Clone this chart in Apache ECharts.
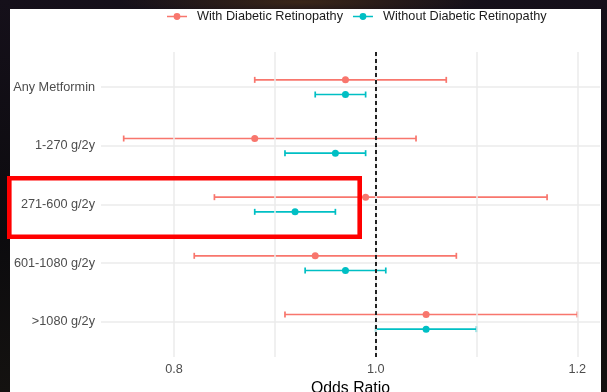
<!DOCTYPE html>
<html><head><meta charset="utf-8">
<script src="https://cdn.jsdelivr.net/npm/echarts@6/dist/echarts.min.js"></script>
<style>
html,body{margin:0;padding:0;width:607px;height:392px;overflow:hidden;background:#0e0c10;}
#bg{position:absolute;left:0;top:0;width:607px;height:392px;
 background:radial-gradient(ellipse 180px 14px at 300px 2px,#3a2618 0%,rgba(20,14,16,0) 100%),linear-gradient(180deg,#15101a 0%,#0c0b0e 60%,#141210 100%);}
#paper{position:absolute;left:10px;top:9px;width:591px;height:383px;background:#ffffff;}
#chart{position:absolute;left:0;top:0;width:607px;height:392px;}
</style></head>
<body><div id="bg"></div><div id="paper"></div><div id="chart"></div>
<script>
// ---- data ----
const categories = ['Any Metformin', '1-270 g/2y', '271-600 g/2y', '601-1080 g/2y', '>1080 g/2y'];
const seriesNames = ['With Diabetic Retinopathy', 'Without Diabetic Retinopathy'];
const withOR   = [0.97, 0.88, 0.99, 0.94, 1.05];
const withLow  = [0.88, 0.75, 0.84, 0.82, 0.91];
const withHigh = [1.07, 1.04, 1.17, 1.08, 1.20];
const withoutOR   = [0.97, 0.96, 0.92, 0.97, 1.05];
const withoutLow  = [0.94, 0.91, 0.88, 0.93, 1.00];
const withoutHigh = [0.99, 0.99, 0.96, 1.01, 1.10];
const xTickLabels = [0.8, 1.0, 1.2];
const xGridValues = [0.8, 0.9, 1.0, 1.1, 1.2];
const refValue = 1.0;

// ---- style ----
const colors = ['#F8766D', '#00BFC4'];
const dodge = 0.125;
const font = "'Liberation Sans', Arial, Helvetica, sans-serif";
const gridColor = '#ebebeb';
const iconPath = 'path://M0,3.2L20,3.2L20,4.8L0,4.8Z M13.4,4A3.4,3.4,0,1,1,6.6,4A3.4,3.4,0,1,1,13.4,4Z';

const catPos = categories.map((c, i) => i + 1);

function points(vals, off) { return vals.map((v, i) => [v, catPos[i] + off]); }
function bars(lo, hi, off) { return lo.map((v, i) => [v, hi[i], catPos[i] + off]); }

function renderErrorBar(params, api) {
  const a = api.coord([api.value(0), api.value(2)]);
  const b = api.coord([api.value(1), api.value(2)]);
  const h = 3;
  const style = { stroke: api.visual('color'), lineWidth: 1.7, fill: null };
  return {
    type: 'group',
    children: [
      { type: 'line', shape: { x1: a[0], y1: a[1], x2: b[0], y2: b[1] }, style: style },
      { type: 'line', shape: { x1: a[0], y1: a[1] - h, x2: a[0], y2: a[1] + h }, style: style },
      { type: 'line', shape: { x1: b[0], y1: b[1] - h, x2: b[0], y2: b[1] + h }, style: style }
    ]
  };
}

const chart = echarts.init(document.getElementById('chart'), null, { renderer: 'canvas' });
const groups = [
  { name: seriesNames[0], or: withOR, lo: withLow, hi: withHigh, off: -dodge, color: colors[0] },
  { name: seriesNames[1], or: withoutOR, lo: withoutLow, hi: withoutHigh, off: dodge, color: colors[1] }
];

const series = [];
// gridlines
series.push({
  type: 'scatter', data: [], silent: true, z: 1,
  markLine: {
    silent: true, symbol: 'none', label: { show: false }, animation: false,
    lineStyle: { color: gridColor, width: 1.5, type: 'solid' },
    data: xGridValues.map(v => ({ xAxis: v })).concat(catPos.map(v => ({ yAxis: v })))
  }
});
groups.forEach(g => {
  series.push({
    name: g.name, type: 'custom', renderItem: renderErrorBar, z: 3,
    itemStyle: { color: g.color },
    encode: { x: [0, 1], y: 2 },
    data: bars(g.lo, g.hi, g.off)
  });
});
groups.forEach(g => {
  series.push({
    name: g.name, type: 'scatter', symbol: 'circle', symbolSize: 7, z: 4,
    itemStyle: { color: g.color, opacity: 1 },
    data: points(g.or, g.off)
  });
});
// reference line
series.push({
  type: 'scatter', data: [], silent: true, z: 5,
  markLine: {
    silent: true, symbol: 'none', label: { show: false }, animation: false,
    lineStyle: { color: '#222222', width: 2, type: [4, 3] },
    data: [{ xAxis: refValue }]
  }
});

chart.setOption({
  animation: false,
  backgroundColor: 'transparent',
  textStyle: { fontFamily: font },
  legend: {
    left: 167, top: 10, padding: 0, itemGap: 10, itemWidth: 20, itemHeight: 7,
    textStyle: { fontFamily: font, fontSize: 12.7, color: '#1a1a1a', padding: [0, 0, 0, 5] },
    data: seriesNames.map(n => ({ name: n, icon: iconPath }))
  },
  grid: { left: 101, right: 7, top: 52, bottom: 35, containLabel: false, outerBoundsMode: 'none' },
  xAxis: {
    type: 'value', min: 0.7275, max: 1.2225,
    axisLine: { show: false }, axisTick: { show: false }, splitLine: { show: false },
    axisLabel: {
      customValues: xTickLabels, margin: 6, color: '#4d4d4d', fontSize: 12.7, fontFamily: font,
      formatter: v => Number(v).toFixed(1)
    },
    name: 'Odds Ratio', nameLocation: 'middle', nameGap: 20,
    nameTextStyle: { color: '#000', fontSize: 15.8, fontFamily: font }
  },
  yAxis: {
    type: 'value', min: 0.4, max: 5.6, inverse: true,
    axisLine: { show: false }, axisTick: { show: false }, splitLine: { show: false },
    axisLabel: {
      customValues: catPos, margin: 6, color: '#4d4d4d', fontSize: 12.7, fontFamily: font,
      formatter: v => categories[Math.round(v) - 1] || ''
    }
  },
  graphic: [{
    type: 'rect', z: 100, silent: true,
    shape: { x: 9.3, y: 178.3, width: 350.4, height: 58.4 },
    style: { fill: 'none', stroke: '#ff0000', lineWidth: 4.6 }
  }],
  series: series
});
</script>
</body></html>
